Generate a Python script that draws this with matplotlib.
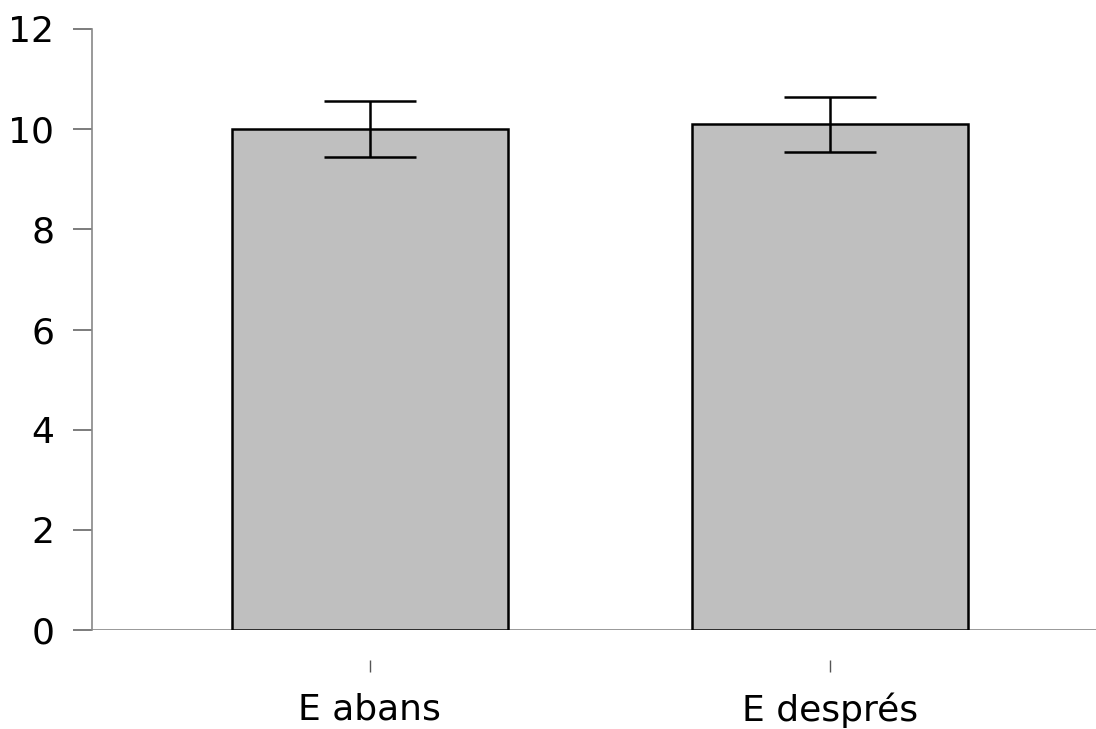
import numpy as np
import matplotlib
matplotlib.use("Agg")
import matplotlib.pyplot as plt

# mitjanes i errors
categories = ["E abans", "E després"]
means = [10.0, 10.1]
errors = [0.56, 0.55]
y_ticks = [0, 2, 4, 6, 8, 10, 12]

plt.rcParams['font.family'] = ['DejaVu Sans']

fig = plt.figure(figsize=(10.96, 7.29), dpi=100)
ax = fig.add_axes([92 / 1096, 1 - 630 / 729, 1 - 92 / 1096, (630 - 29) / 729])

x = np.arange(len(categories))
ax.bar(x, means, width=0.6, color="#bfbfbf", edgecolor="black", linewidth=1.8, zorder=2)
ax.errorbar(x, means, yerr=errors, fmt="none", ecolor="black", elinewidth=1.8,
            capsize=33, capthick=1.8, zorder=3)

# linia base a y=0
ax.axhline(0, color="#888888", linewidth=1.2, zorder=1)

ax.set_xlim(-0.604, 1.578)
ax.set_ylim(0, 12)
ax.set_yticks(y_ticks)
ax.set_xticks(x)
ax.set_xticklabels(categories)

for side in ["top", "right"]:
    ax.spines[side].set_visible(False)
ax.spines["left"].set_color("#888888")
ax.spines["left"].set_linewidth(1.2)
# eix inferior separat de la base, nomes amb les marques
ax.spines["bottom"].set_position(("outward", 21.6))
ax.spines["bottom"].set_visible(False)

ax.tick_params(axis="y", length=14, width=1.2, color="#666666", pad=13, labelsize=26)
ax.tick_params(axis="x", length=8.6, width=1.0, color="#555555", pad=15, labelsize=26)

fig.savefig("out.png", dpi=100)
